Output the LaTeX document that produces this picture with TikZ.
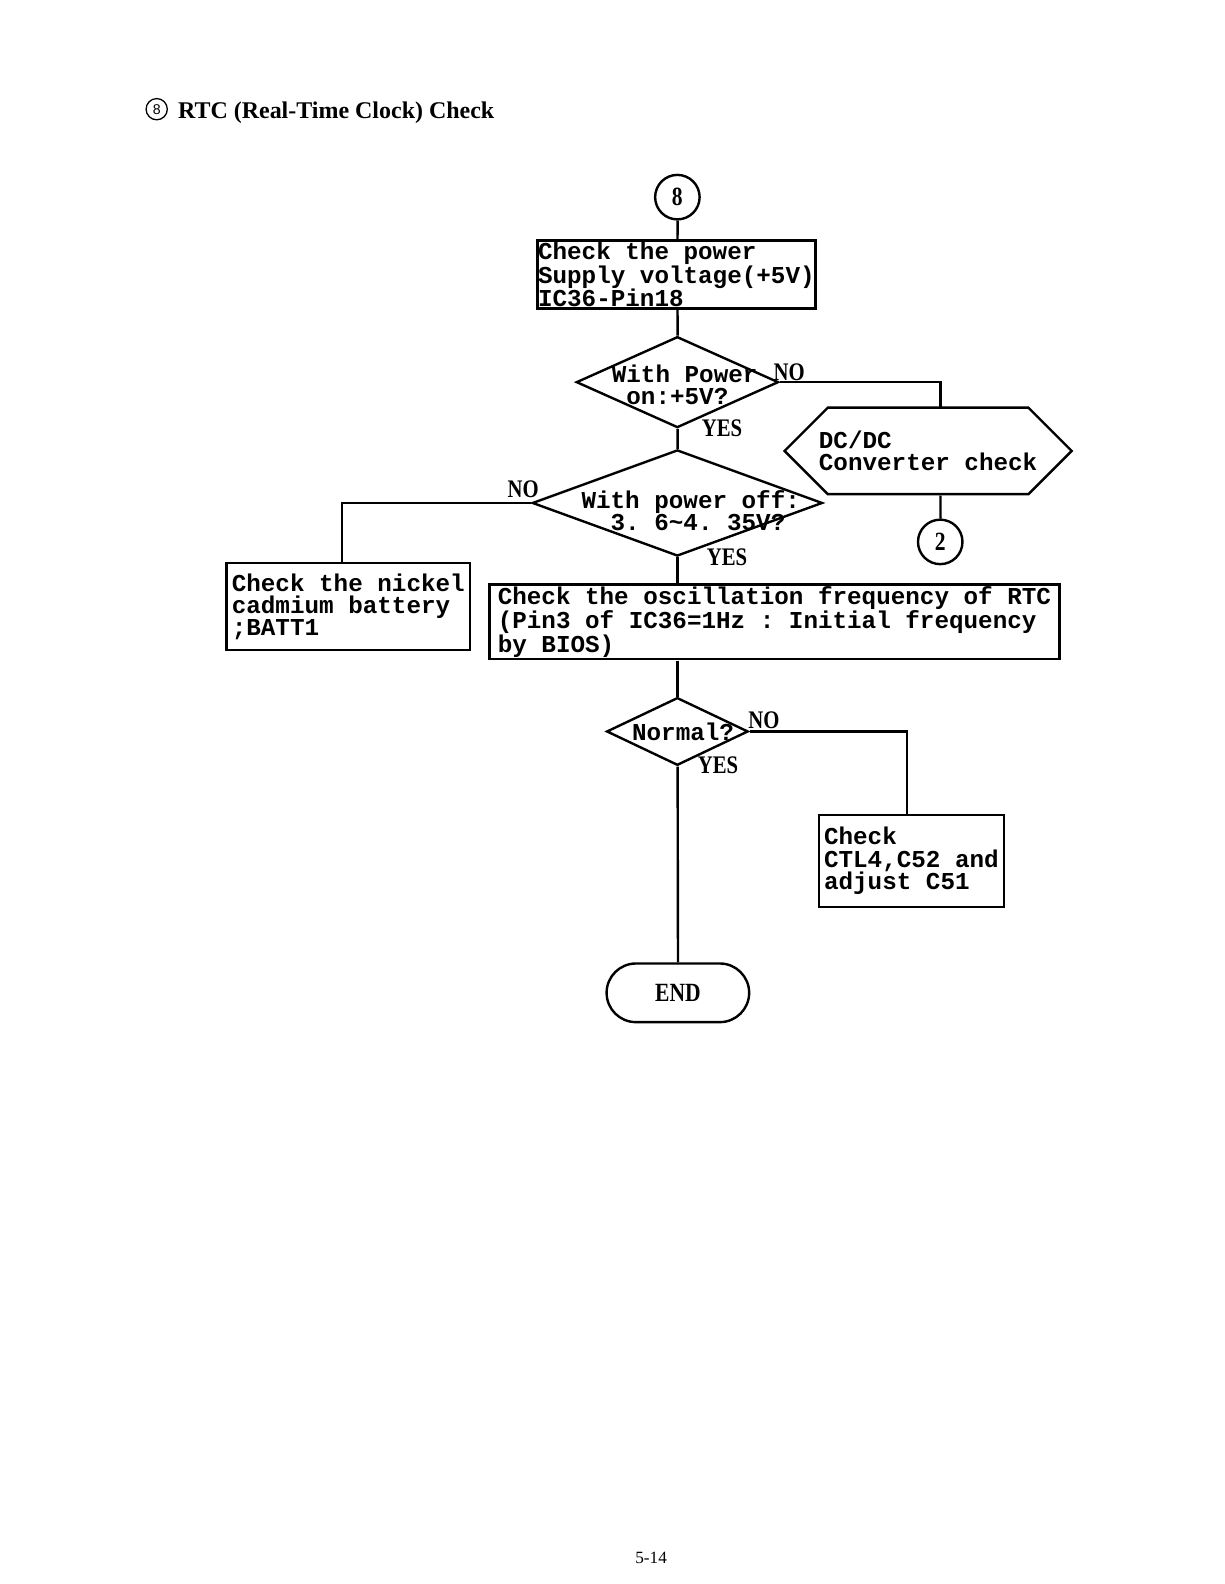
\documentclass[tikz,border=0pt]{standalone}
\usepackage{fontspec}
\setmainfont{Liberation Serif}
\setsansfont{Liberation Sans}
\setmonofont{Liberation Mono}
\newfontfamily\narrowserif[FakeStretch=0.82]{Liberation Serif}
\usetikzlibrary{shapes.geometric, shapes.misc, positioning}

\tikzset{
    flow/.style={line width=2.4pt},
    box/.style={draw, line width=2.6pt, rectangle, align=left, inner sep=0pt,
        font=\ttfamily\bfseries\fontsize{24}{22}\selectfont},
    dia/.style={draw, line width=2.4pt, diamond, inner sep=0pt},
    diatext/.style={anchor=west, align=left, inner sep=0pt,
        font=\ttfamily\bfseries\fontsize{24}{22}\selectfont},
    hexbox/.style={draw, line width=2.4pt, chamfered rectangle,
        chamfered rectangle xsep=37pt, chamfered rectangle ysep=23pt,
        align=left, inner sep=0pt, font=\ttfamily\bfseries\fontsize{24}{22}\selectfont},
    conn/.style={draw, line width=2.4pt, circle, minimum size=44pt, inner sep=0pt,
        font=\narrowserif\bfseries\fontsize{26}{26}\selectfont},
    endbox/.style={draw, line width=2.4pt, rounded rectangle, inner sep=0pt,
        font=\narrowserif\bfseries\fontsize{26}{26}\selectfont},
    yesno/.style={anchor=west, inner sep=0pt, font=\narrowserif\bfseries\fontsize{25}{25}\selectfont}
}

\begin{document}
\begin{tikzpicture}[x=1pt, y=-1pt]
    \useasboundingbox (0,0) rectangle (1224,1584);
    \begin{scope}[scale=1.011, transform shape]

    % heading
    \node[draw, circle, line width=1.3pt, minimum size=21pt, inner sep=0pt,
        font=\sffamily\fontsize{14}{14}\selectfont] (hnum) at (155,108) {8};
    \node[anchor=base west, inner sep=0pt, font=\bfseries\fontsize{23.7}{24}\selectfont]
        (title) at (176,117) {RTC (Real-Time Clock) Check};

    % main column
    \node[conn] (c8) at (670,195) {8};
    \node[box, minimum width=275pt, minimum height=67pt] (pwr) at (669,271.5)
        {Check the power\\Supply voltage(+5V)\\IC36-Pin18};
    \node[dia, minimum width=200pt, minimum height=90pt] (d1) at (670,378) {};
    \node[diatext] (d1t) at (605,381) {With Power\\\hphantom{W}on:+5V?};
    \node[dia, minimum width=287pt, minimum height=105pt] (d2) at (670,497.5) {};
    \node[diatext] (d2t) at (575,505) {With power off:\\\hphantom{Wi}3.~6\textasciitilde4.~35V?};
    \node[box, minimum width=564pt, minimum height=74pt] (osc) at (766,615)
        {Check the oscillation frequency of RTC\\(Pin3 of IC36=1Hz : Initial frequency\\by BIOS)};
    \node[dia, minimum width=140pt, minimum height=67pt] (d3) at (670,723.5) {};
    \node[diatext] (d3t) at (625,723.5) {Normal?};
    \node[endbox, minimum width=141pt, minimum height=58pt] (fin) at (670.5,982) {END};

    % side branches
    \node[hexbox, minimum width=284pt, minimum height=46pt] (dcdc) at (918,446)
        {DC/DC\\Converter check};
    \node[conn] (c2) at (930,536) {2};
    \node[box, minimum width=241pt, minimum height=86pt] (batt) at (344.5,600)
        {Check the nickel\\cadmium battery\\;BATT1};
    \node[box, minimum width=183pt, minimum height=91pt] (ctl) at (901.5,851.5)
        {Check\\CTL4,C52 and\\adjust C51};

    % YES / NO marks
    \node[yesno] (no1) at (765,368) {NO};
    \node[yesno] (yes1) at (694,424) {YES};
    \node[yesno] (no2) at (502,484) {NO};
    \node[yesno] (yes2) at (699,551) {YES};
    \node[yesno] (no3) at (740,712) {NO};
    \node[yesno] (yes3) at (690,757) {YES};

    % connectors
    \draw[flow] (c8) -- (c8 |- pwr.north);
    \draw[flow] (pwr.south -| d1.north) -- (d1);
    \draw[flow] (d1) -- (d2);
    \draw[flow] (d2.south) -- (d2.south |- osc.north);
    \draw[flow] (osc.south -| d3.north) -- (d3.north);
    \draw[flow] (d3) -- (fin);
    \draw[flow] (d1.east) -| ([xshift=12pt]dcdc.north);
    \draw[flow] ([xshift=12pt]dcdc.south) -- (c2);
    \draw[flow] (d2.west) -| ([xshift=-6.5pt]batt.north);
    \draw[flow] (d3.east) -| ([xshift=-4.5pt]ctl.north);

    \node[inner sep=0pt, font=\fontsize{17}{17}\selectfont] (page) at (644,1541) {5-14};
    \end{scope}
\end{tikzpicture}
\end{document}
